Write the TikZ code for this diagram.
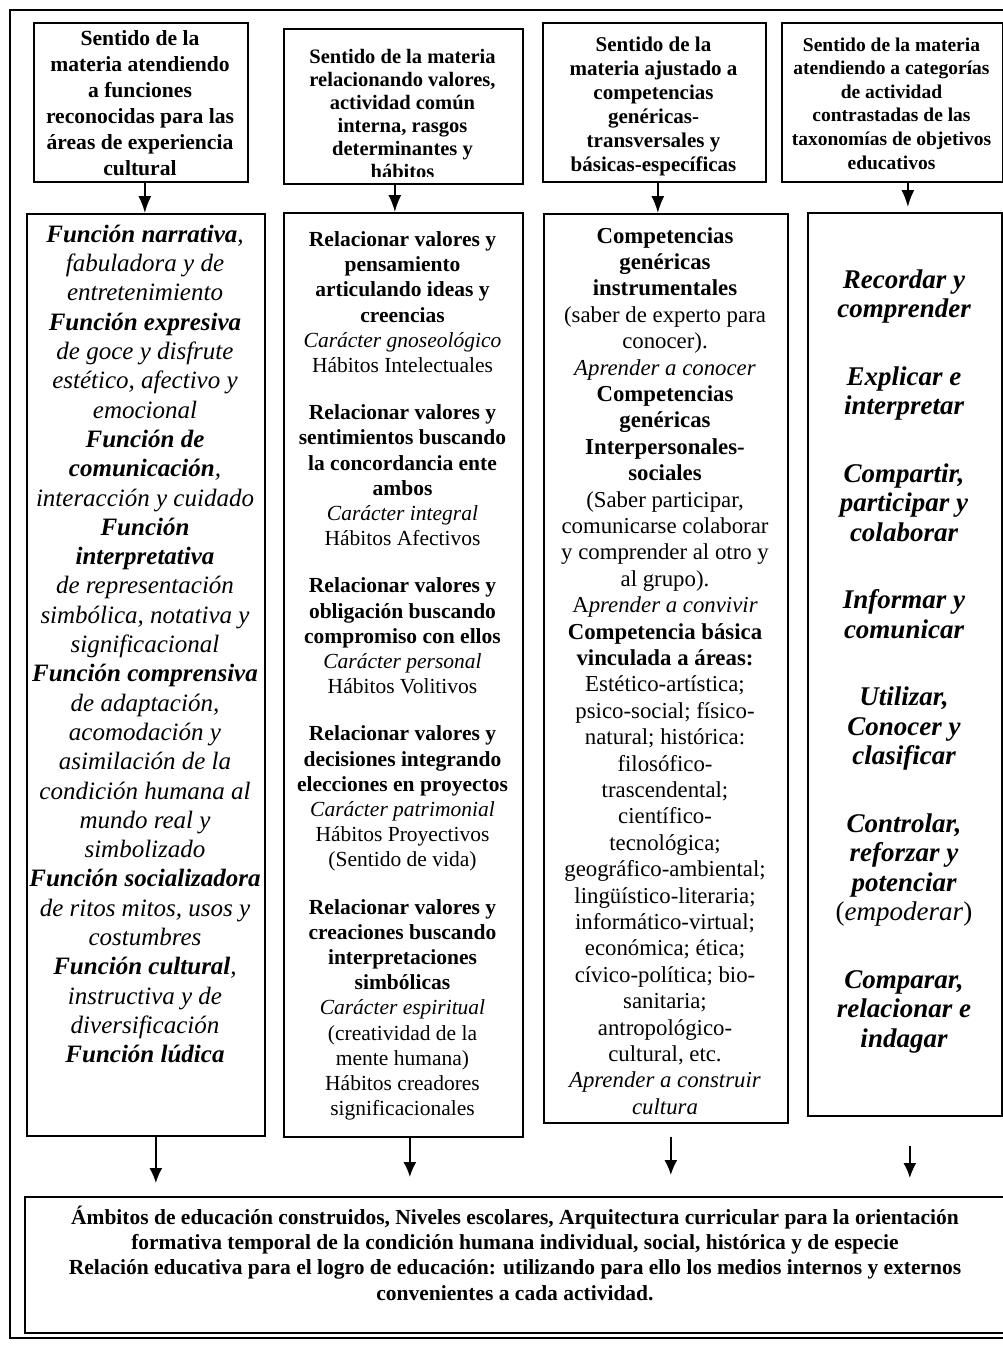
\documentclass[tikz,border=0pt]{standalone}
\usepackage{fontspec}
\setmainfont{Liberation Serif}
\usetikzlibrary{arrows.meta}
\begin{document}
\begin{tikzpicture}[x=1pt,y=-1pt,
  box/.style={draw, line width=1.7pt, inner sep=0pt},
  txt/.style={align=center, inner sep=0pt},
  arr/.style={line width=1.7pt, -{Latex[length=17pt,width=13pt]}},
  arrb/.style={line width=1.7pt, -{Latex[length=15pt,width=13pt]}}]
\useasboundingbox (0,0) rectangle (1003,1349);
\clip (0,0) rectangle (1003,1349);
\fill[white] (0,0) rectangle (1003,1349);
% outer frame (right edge falls outside the page)
\draw[line width=1.4pt] (10,10) rectangle (1020,1338);

% header boxes
\node[box, anchor=north west, minimum width=214, minimum height=159] (h1) at (33,22) {};
\node[box, anchor=north west, minimum width=239, minimum height=155] (h2) at (283,28) {};
\node[box, anchor=north west, minimum width=223, minimum height=159] (h3) at (542,22) {};
\node[box, anchor=north west, minimum width=221, minimum height=159] (h4) at (781,22) {};

% main boxes
\node[box, anchor=north west, minimum width=238, minimum height=922] (m1) at (26,213) {};
\node[box, anchor=north west, minimum width=239, minimum height=924] (m2) at (283,212) {};
\node[box, anchor=north west, minimum width=244, minimum height=909] (m3) at (543,213) {};
\node[box, anchor=north west, minimum width=194, minimum height=903] (m4) at (807,212) {};

% bottom box
\node[box, anchor=north west, minimum width=982, minimum height=136] (bot) at (24,1196) {};

% header texts
\node[txt, font=\fontsize{21.6}{26}\selectfont\bfseries] (h1t) at (140,103) {Sentido de la\\ materia atendiendo\\ a funciones\\ reconocidas para las\\ áreas de experiencia\\ cultural};
\begin{scope}
\clip (283,28) rectangle (522,176);
\node[txt, font=\fontsize{20.5}{23}\selectfont\bfseries] (h2t) at (402.5,113.5) {Sentido de la materia\\ relacionando valores,\\ actividad común\\ interna, rasgos\\ determinantes y\\ hábitos};
\end{scope}
\node[txt, font=\fontsize{21}{24}\selectfont\bfseries] (h3t) at (653.5,106) {Sentido de la\\ materia ajustado a\\ competencias\\ genéricas-\\ transversales y\\ básicas-específicas};
\node[txt, font=\fontsize{19.5}{23.6}\selectfont\bfseries] (h4t) at (891.5,103.5) {Sentido de la materia\\ atendiendo a categorías\\ de actividad\\ contrastadas de las\\ taxonomías de objetivos\\ educativos};

% column 1
\node[txt, font=\fontsize{25}{29.3}\selectfont\itshape] (c1) at (145,644) {\textbf{Función narrativa},\\ fabuladora y de\\ entretenimiento\\ \textbf{Función expresiva}\\ de goce y disfrute\\ estético, afectivo y\\ emocional\\ \textbf{Función de}\\ \textbf{comunicación},\\ interacción y cuidado\\ \textbf{Función}\\ \textbf{interpretativa}\\ de representación\\ simbólica, notativa y\\ significacional\\ \textbf{Función comprensiva}\\ de adaptación,\\ acomodación y\\ asimilación de la\\ condición humana al\\ mundo real y\\ simbolizado\\ \textbf{Función socializadora}\\ de ritos mitos, usos y\\ costumbres\\ \textbf{Función cultural},\\ instructiva y de\\ diversificación\\ \textbf{Función lúdica}};

% column 2
\node[txt, font=\fontsize{21.5}{25.2}\selectfont] (c2) at (402.5,676) {\textbf{Relacionar valores y}\\ \textbf{pensamiento}\\ \textbf{articulando ideas y}\\ \textbf{creencias}\\ \textit{Carácter gnoseológico}\\ Hábitos Intelectuales\\[22pt]
\textbf{Relacionar valores y}\\ \textbf{sentimientos buscando}\\ \textbf{la concordancia ente}\\ \textbf{ambos}\\ \textit{Carácter integral}\\ Hábitos Afectivos\\[22pt]
\textbf{Relacionar valores y}\\ \textbf{obligación buscando}\\ \textbf{compromiso con ellos}\\ \textit{Carácter personal}\\ Hábitos Volitivos\\[22pt]
\textbf{Relacionar valores y}\\ \textbf{decisiones integrando}\\ \textbf{elecciones en proyectos}\\ \textit{Carácter patrimonial}\\ Hábitos Proyectivos\\ (Sentido de vida)\\[22pt]
\textbf{Relacionar valores y}\\ \textbf{creaciones buscando}\\ \textbf{interpretaciones}\\ \textbf{simbólicas}\\ \textit{Carácter espiritual}\\ (creatividad de la\\ mente humana)\\ Hábitos creadores\\ significacionales};

% column 3
\node[txt, font=\fontsize{22.8}{26.4}\selectfont] (c3) at (665,671) {\textbf{Competencias}\\ \textbf{genéricas}\\ \textbf{instrumentales}\\ (saber de experto para\\ conocer).\\ \textit{Aprender a conocer}\\ \textbf{Competencias}\\ \textbf{genéricas}\\ \textbf{Interpersonales-}\\ \textbf{sociales}\\ (Saber participar,\\ comunicarse colaborar\\ y comprender al otro y\\ al grupo).\\ A\textit{prender a convivir}\\ \textbf{Competencia básica}\\ \textbf{vinculada a áreas:}\\ Estético-artística;\\ psico-social; físico-\\ natural; histórica:\\ filosófico-\\ trascendental;\\ científico-\\ tecnológica;\\ geográfico-ambiental;\\ lingüístico-literaria;\\ informático-virtual;\\ económica; ética;\\ cívico-política; bio-\\ sanitaria;\\ antropológico-\\ cultural, etc.\\ \textit{Aprender a construir}\\ \textit{cultura}};

% column 4
\node[txt, font=\fontsize{27}{29.5}\selectfont\bfseries\itshape] (c4) at (904,661) {Recordar y\\ comprender\\[38pt] Explicar e\\ interpretar\\[38pt] Compartir,\\ participar y\\ colaborar\\[38pt] Informar y\\ comunicar\\[38pt] Utilizar,\\ Conocer y\\ clasificar\\[38pt] Controlar,\\ reforzar y\\ potenciar\\ {\normalfont(\textit{empoderar})}\\[38pt] Comparar,\\ relacionar e\\ indagar};

% bottom text
\node[txt, font=\fontsize{21.5}{25.3}\selectfont\bfseries] (bt) at (515,1253) {Ámbitos de educación construidos, Niveles escolares, Arquitectura curricular para la orientación\\ formativa temporal de la condición humana individual, social, histórica y de especie\\ Relación educativa para el logro de educación: utilizando para ello los medios internos y externos\\ convenientes a cada actividad.};

% arrows header -> main
\draw[arr] ([xshift=4pt]h1.south) -- ([xshift=4pt]h1.south |- m1.north);
\draw[arr] ([xshift=-8.5pt]h2.south) -- ([xshift=-8.5pt]h2.south |- m2.north);
\draw[arr] ([xshift=3.5pt]h3.south) -- ([xshift=3.5pt]h3.south |- m3.north);
\draw[arr, shorten >=5pt] ([xshift=15.5pt]h4.south) -- ([xshift=15.5pt]h4.south |- m4.north);

% arrows main -> bottom
\draw[arrb, shorten >=13pt] ([xshift=10pt]m1.south) -- ([xshift=10pt]m1.south |- bot.north);
\draw[arrb, shorten >=19pt] ([xshift=6.5pt]m2.south) -- ([xshift=6.5pt]m2.south |- bot.north);
\draw[arrb, shorten <=13pt, shorten >=21pt] ([xshift=5pt]m3.south) -- ([xshift=5pt]m3.south |- bot.north);
\draw[arrb, shorten <=29pt, shorten >=18pt] ([xshift=5pt]m4.south) -- ([xshift=5pt]m4.south |- bot.north);
\end{tikzpicture}
\end{document}
